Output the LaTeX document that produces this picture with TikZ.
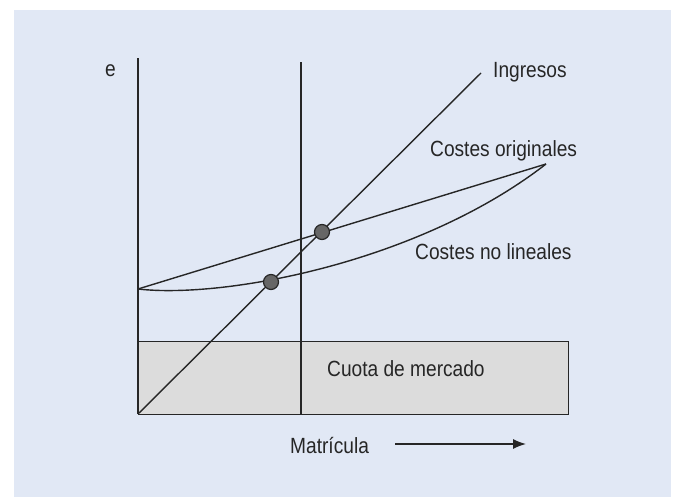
\documentclass[tikz,border=0pt]{standalone}
\usepackage{fontspec}
\setmainfont{Liberation Sans}[FakeStretch=0.87]
\usetikzlibrary{arrows.meta}
\begin{document}
\begin{tikzpicture}[x=1pt,y=-1pt,
  lbl/.style={inner sep=0pt,font=\fontsize{22}{26}\selectfont,text=black!85},
  ln/.style={line width=1.4pt,draw=black!85},
  dot/.style={circle,draw=black!85,line width=1.2pt,fill=black!60,minimum size=15pt,inner sep=0pt}]
\definecolor{bgc}{HTML}{E1E8F5}
\definecolor{boxc}{HTML}{DCDCDC}
\useasboundingbox (0,0) rectangle (675,497);
\fill[bgc] (14,10) rectangle (671,497);
% market share box
\node[draw=black!85,line width=1.4pt,fill=boxc,minimum width=430pt,minimum height=73pt,inner sep=0pt,anchor=north west] (box) at (138,341) {};
\node[lbl,anchor=west] (cuota) at (327,369) {Cuota de mercado};
% coordinates
\coordinate (o) at (138,414);
\coordinate (ytop) at (138,58);
\coordinate (vbot) at (301,414);
\coordinate (vtop) at (301,62);
\coordinate (ingend) at (481,73);
\coordinate (cstart) at (138,289);
\coordinate (cend) at (546,164);
% axes
\draw[ln] (o) -- (ytop);
\draw[ln] (vbot) -- (vtop);
% lines
\draw[ln] (o) -- (ingend);
\draw[ln] (cstart) -- (cend);
\draw[ln] (cstart) .. controls (225,299) and (420,262) .. (cend);
% dots
\node[dot] (d1) at (271,282) {};
\node[dot] (d2) at (322,232) {};
% labels
\node[lbl,anchor=west] (e) at (105,71) {e};
\node[lbl,anchor=west] (ing) at (493,72) {Ingresos};
\node[lbl,anchor=west] (co) at (430,151) {Costes originales};
\node[lbl,anchor=west] (cnl) at (415,252) {Costes no lineales};
\node[lbl,anchor=west] (mat) at (290,446) {Matrícula};
\coordinate (a1) at (395,444);
\coordinate (a2) at (526,444);
\draw[ln,-{Latex[length=13pt,width=10pt]}] (a1) -- (a2);
\end{tikzpicture}
\end{document}
